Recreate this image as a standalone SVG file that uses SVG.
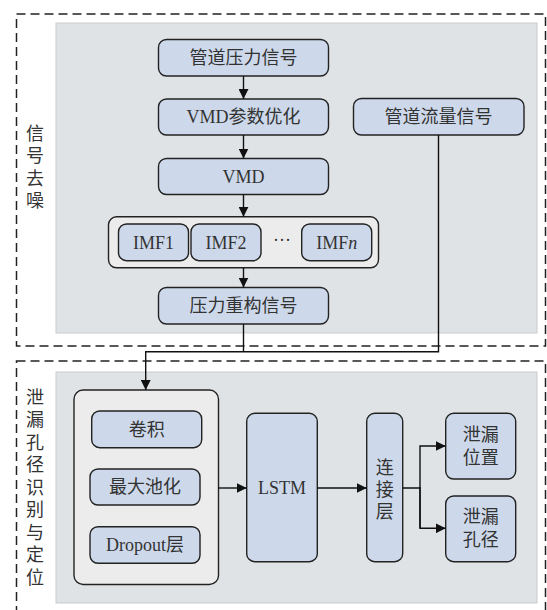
<svg xmlns="http://www.w3.org/2000/svg" width="547" height="610" viewBox="0 0 547 610">
<defs>
<marker id="ah" viewBox="0 0 10 10" refX="10" refY="5" markerWidth="10" markerHeight="10" markerUnits="userSpaceOnUse" orient="auto">
<path d="M0,0 L10,5 L0,10 z" fill="#111"/>
</marker>
<style>
.dash{fill:none;stroke:#222;stroke-width:1.5;stroke-dasharray:9 5}
.panel{fill:#e0e3e5;stroke:#c9cbcd;stroke-width:1}
.cont{fill:#ececec;stroke:#222;stroke-width:1.4}
.box{fill:#cdd9ea;stroke:#222;stroke-width:1.4}
.t{font-family:"Liberation Serif","Noto Sans CJK SC",serif;font-size:18px;fill:#333;text-anchor:middle;dominant-baseline:central}
.v{font-family:"Noto Sans CJK SC","Liberation Sans",sans-serif;font-size:18px;fill:#333;writing-mode:vertical-rl;text-anchor:start;dominant-baseline:central}
.ln{fill:none;stroke:#111;stroke-width:1.4}
</style>
</defs>
<rect width="547" height="610" fill="#fff"/>
<g id="section-denoise">
<rect class="dash" x="16.5" y="14" width="529" height="332"/>
<rect class="panel" x="56" y="23" width="481" height="310"/>
<text class="v" x="35" y="124" letter-spacing="4.5">信号去噪</text>
</g>
<g id="section-identify">
<rect class="dash" x="16.5" y="361" width="529" height="270"/>
<rect class="panel" x="56" y="372" width="481" height="231"/>
<text class="v" x="35" y="388" letter-spacing="4.5">泄漏孔径识别与定位</text>
</g>
<g id="n-pressure">
<rect class="box" x="158.5" y="39.5" width="170" height="36.5" rx="8"/>
<text class="t" x="243.5" y="57.5">管道压力信号</text>
</g>
<g id="n-vmdopt">
<rect class="box" x="158.5" y="99" width="170" height="36" rx="8"/>
<text class="t" x="243.5" y="117">VMD参数优化</text>
</g>
<g id="n-flow">
<rect class="box" x="353.5" y="98.5" width="170.5" height="36.5" rx="8"/>
<text class="t" x="438.5" y="117">管道流量信号</text>
</g>
<g id="n-vmd">
<rect class="box" x="158.5" y="158.5" width="170" height="36" rx="8"/>
<text class="t" x="243.5" y="176.5">VMD</text>
</g>
<g id="n-imf">
<rect class="cont" x="108.5" y="216.8" width="270" height="51" rx="8"/>
<rect class="box" x="118.5" y="224" width="70" height="36.7" rx="8"/>
<text class="t" x="153.5" y="242.5">IMF1</text>
<rect class="box" x="191" y="224" width="70" height="36.7" rx="8"/>
<text class="t" x="226" y="242.5">IMF2</text>
<text class="t" x="282" y="240">···</text>
<rect class="box" x="301.7" y="224" width="70" height="36.7" rx="8"/>
<text class="t" x="336.7" y="242.5">IMF<tspan font-style="italic">n</tspan></text>
</g>
<g id="n-recon">
<rect class="box" x="158.5" y="287.5" width="170" height="36.5" rx="8"/>
<text class="t" x="243.5" y="305.5">压力重构信号</text>
</g>
<g id="n-cnn">
<rect class="cont" x="74" y="390" width="144.5" height="194.5" rx="9"/>
<rect class="box" x="91.7" y="411" width="110" height="36.7" rx="8"/>
<text class="t" x="146.7" y="429.5">卷积</text>
<rect class="box" x="90" y="469" width="110" height="36" rx="8"/>
<text class="t" x="145" y="487">最大池化</text>
<rect class="box" x="90" y="526.7" width="110" height="36.6" rx="8"/>
<text class="t" x="145" y="545">Dropout层</text>
</g>
<g id="n-lstm">
<rect class="box" x="246.7" y="413.3" width="70.6" height="148.4" rx="8"/>
<text class="t" x="282" y="488">LSTM</text>
</g>
<g id="n-concat">
<rect class="box" x="366.7" y="413.3" width="36" height="148.4" rx="8"/>
<text class="v" x="384.7" y="458" letter-spacing="4">连接层</text>
</g>
<g id="n-loc">
<rect class="box" x="445.7" y="413.3" width="70" height="65.7" rx="8"/>
<text class="t"><tspan x="480.7" y="435">泄漏</tspan><tspan x="480.7" dy="23">位置</tspan></text>
</g>
<g id="n-size">
<rect class="box" x="445.7" y="496" width="70" height="65.7" rx="8"/>
<text class="t"><tspan x="480.7" y="517">泄漏</tspan><tspan x="480.7" dy="23">孔径</tspan></text>
</g>
<g id="connectors">
<path class="ln" d="M243.5,76 V99" marker-end="url(#ah)"/>
<path class="ln" d="M243.5,135 V158.5" marker-end="url(#ah)"/>
<path class="ln" d="M243.5,194.5 V216.8" marker-end="url(#ah)"/>
<path class="ln" d="M243.5,267.8 V287.5" marker-end="url(#ah)"/>
<path class="ln" d="M243.5,324 V352"/>
<path class="ln" d="M438.5,135 V351.7 H145.7 V390" marker-end="url(#ah)"/>
<path class="ln" d="M218.5,488 H246.7" marker-end="url(#ah)"/>
<path class="ln" d="M317.3,488 H366.7" marker-end="url(#ah)"/>
<path class="ln" d="M402.7,488 H420 M420,528.3 V446 H445.7" marker-end="url(#ah)"/>
<path class="ln" d="M420,487 V528.3 H445.7" marker-end="url(#ah)"/>
</g>
</svg>
